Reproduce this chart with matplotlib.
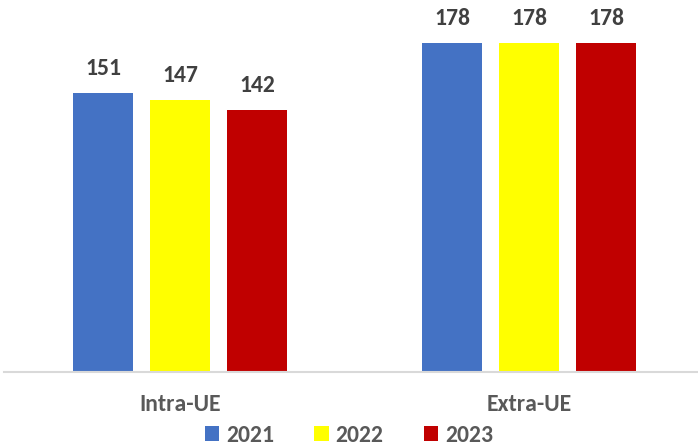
import numpy as np
import matplotlib.pyplot as plt

plt.rcParams['font.family'] = ['Carlito', 'Lato', 'DejaVu Sans']

groups = ['Intra-UE', 'Extra-UE']
years = ['2021', '2022', '2023']
values = {
    '2021': [151, 178],
    '2022': [147, 178],
    '2023': [142, 178],
}
colors = ['#4472c4', '#ffff00', '#c00000']

fig = plt.figure(figsize=(6.98, 4.48), dpi=100)
ax = fig.add_axes([4/698, 1-372/448, 694/698, 372/448])

x = np.arange(len(groups))
step = 77/349
width = 60/349

for i, yr in enumerate(years):
    pos = x + (i-1)*step
    bars = ax.bar(pos, values[yr], width, color=colors[i], label=yr, zorder=2)
    for b, v in zip(bars, values[yr]):
        ax.annotate(str(v), (b.get_x()+b.get_width()/2, v), xytext=(0, 10),
                    textcoords='offset points', ha='center', va='bottom',
                    fontsize=17, fontweight='bold', color='#404040')

ax.set_xlim(-0.504, 1.484)
ax.set_ylim(0, 372/1.848)
for s in ['top', 'right', 'left']:
    ax.spines[s].set_visible(False)
ax.spines['bottom'].set_color('#d9d9d9')
ax.spines['bottom'].set_linewidth(1.5)
ax.set_yticks([])
ax.set_xticks(x)
ax.set_xticklabels(groups, fontsize=17, fontweight='bold', color='#595959')
ax.tick_params(axis='x', length=0, pad=16)

leg = fig.legend(loc='center', bbox_to_anchor=(0.5, 1-435/448), ncol=3, frameon=False,
                 handlelength=0.6, handleheight=0.6, handletextpad=0.3, columnspacing=1.7,
                 prop={'size': 17, 'weight': 'bold'})
for t in leg.get_texts():
    t.set_color('#595959')

fig.savefig('out.png', dpi=100)
